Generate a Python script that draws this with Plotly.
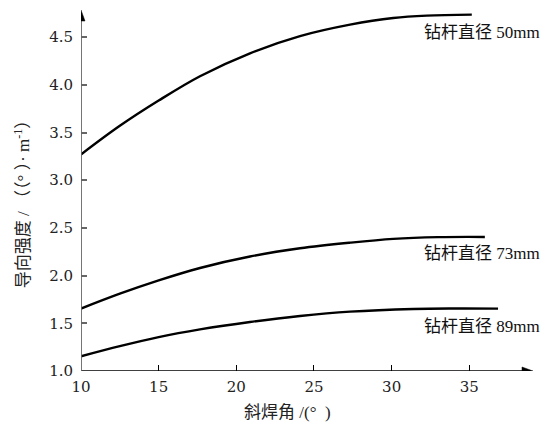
import plotly.graph_objects as go

# Angle (deg) and steering strength values
x_50 = [10, 12.5, 15, 17.66, 20.88, 24.1, 27.32, 30.1, 32.26, 35.16]
y_50 = [3.27, 3.57, 3.835, 4.09, 4.33, 4.51, 4.63, 4.70, 4.725, 4.735]

x_73 = [10, 12.5, 15, 17.66, 20.88, 24.1, 27.32, 30.1, 33.0, 36.0]
y_73 = [1.654, 1.81, 1.95, 2.08, 2.20, 2.286, 2.345, 2.385, 2.403, 2.405]

x_89 = [10, 12.5, 15, 17.66, 20.88, 24.1, 27.32, 31.4, 34.0, 36.85]
y_89 = [1.154, 1.26, 1.355, 1.436, 1.514, 1.577, 1.622, 1.65, 1.655, 1.654]

series_labels = ["钻杆直径 50mm", "钻杆直径 73mm", "钻杆直径 89mm"]
label_y = [4.55, 2.234, 1.469]
x_ticks = [10, 15, 20, 25, 30, 35]
y_ticks = [1.0, 1.5, 2.0, 2.5, 3.0, 3.5, 4.0, 4.5]

FONT = "Liberation Serif, Times New Roman, DejaVu Serif, serif, Noto Sans CJK SC"
TICK_FAMILY = "DejaVu Serif, Liberation Serif, serif"
X_MAX = 39.1
Y_MAX = 4.784
LABEL_X = 31.96

fig = go.Figure()
for xs, ys in [(x_50, y_50), (x_73, y_73), (x_89, y_89)]:
    fig.add_trace(go.Scatter(x=xs, y=ys, mode="lines",
                             line=dict(color="black", width=2.4, shape="spline", smoothing=1.0),
                             showlegend=False, hoverinfo="skip"))

for ly, txt in zip(label_y, series_labels):
    fig.add_annotation(x=LABEL_X, y=ly, text=txt, showarrow=False,
                       xref="x", yref="y", xanchor="left", yanchor="middle",
                       font=dict(family=FONT, size=17, color="#111111"))

# Axis titles
fig.add_annotation(x=0.456, y=0, xref="paper", yref="paper", yshift=-41,
                   text="斜焊角 /(°  )", showarrow=False, xanchor="center", yanchor="middle",
                   font=dict(family=FONT, size=17, color="#222222"))
fig.add_annotation(x=-0.13, y=0.474, xref="paper", yref="paper", textangle=-90,
                   text="导向强度 / （（° ）· m<sup>-1</sup>）", showarrow=False,
                   xanchor="center", yanchor="middle",
                   font=dict(family=FONT, size=17, color="#222222"))

# Axis lines with arrowheads
fig.add_shape(type="line", xref="x", yref="y", x0=10, x1=X_MAX - 0.3, y0=1.0, y1=1.0,
              line=dict(color="black", width=1.3))
fig.add_shape(type="path", xref="x", yref="y", xsizemode="pixel", ysizemode="pixel",
              xanchor=X_MAX, yanchor=1.0, path="M 0 0 L -11 4 L -11 -4 Z",
              fillcolor="black", line=dict(color="black", width=0.5))
fig.add_shape(type="line", xref="x", yref="y", x0=10, x1=10, y0=1.0, y1=Y_MAX - 0.05,
              line=dict(color="#666666", width=1.8))
fig.add_shape(type="path", xref="x", yref="y", xsizemode="pixel", ysizemode="pixel",
              xanchor=10, yanchor=Y_MAX, path="M 0 0 L -4 -11 L 4 -11 Z",
              fillcolor="black", line=dict(color="black", width=0.5))

tick_font = dict(family=TICK_FAMILY, size=15, color="#222222")
fig.update_layout(
    width=552, height=423,
    margin=dict(l=81, r=19, t=10, b=52),
    paper_bgcolor="white", plot_bgcolor="white",
    font=dict(family=FONT, size=17, color="#222222"),
    xaxis=dict(range=[10, X_MAX], tickvals=x_ticks, ticktext=[str(v) for v in x_ticks],
               showgrid=False, zeroline=False, showline=False, automargin=False,
               ticks="inside", ticklen=6, tickcolor="black", tickwidth=1,
               ticklabelstandoff=5, tickfont=tick_font),
    yaxis=dict(range=[1.0, Y_MAX], tickvals=y_ticks, ticktext=[f"{v:.1f}" for v in y_ticks],
               showgrid=False, zeroline=False, showline=False, automargin=False,
               ticks="inside", ticklen=6, tickcolor="#666666", tickwidth=1.5,
               ticklabelstandoff=7, tickfont=tick_font),
)

fig.write_html("out.html", config={"displayModeBar": False},
               post_script="document.body.style.margin='0';")
